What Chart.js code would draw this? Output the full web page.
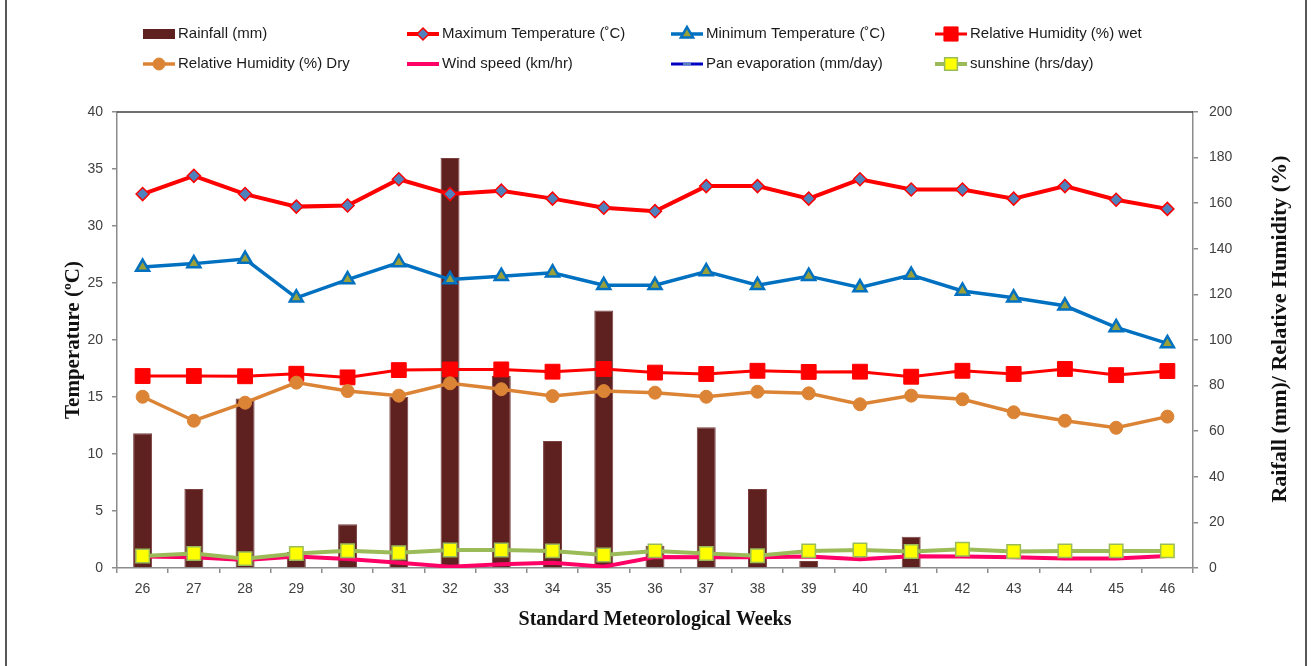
<!DOCTYPE html>
<html>
<head>
<meta charset="utf-8">
<title>Weather parameters by standard meteorological week</title>
<script src="https://cdn.jsdelivr.net/npm/chart.js"></script>
<style>
  html, body { margin: 0; padding: 0; background: #fff; }
  #wrap { position: relative; width: 1311px; height: 666px; }
</style>
</head>
<body>
<div id="wrap"><canvas id="weather-chart"></canvas></div>
<script>
// 數據
const weeks = ['26', '27', '28', '29', '30', '31', '32', '33', '34', '35', '36',
               '37', '38', '39', '40', '41', '42', '43', '44', '45', '46'];
const rainfall = [59.1, 34.6, 74.3, 7.0, 19.2, 75.1, 179.8, 84.2, 55.7, 112.9, 9.8,
                  61.7, 34.6, 3.1, 0, 13.7, 0, 0, 0, 0, 0];
const maxTemp = [32.8, 34.4, 32.8, 31.7, 31.8, 34.1, 32.8, 33.1, 32.4, 31.6, 31.3,
                 33.5, 33.5, 32.4, 34.1, 33.2, 33.2, 32.4, 33.5, 32.3, 31.5];
const minTemp = [26.4, 26.7, 27.1, 23.7, 25.3, 26.8, 25.3, 25.6, 25.9, 24.8, 24.8,
                 26.0, 24.8, 25.6, 24.6, 25.7, 24.3, 23.7, 23.0, 21.1, 19.7];
const rhWet = [84.2, 84.2, 84.1, 85.2, 83.6, 86.8, 87.1, 87.1, 86.1, 87.3, 85.7,
               85.1, 86.5, 86.0, 86.1, 83.9, 86.5, 85.1, 87.3, 84.6, 86.4];
const rhDry = [75.1, 64.6, 72.5, 81.3, 77.6, 75.6, 81.0, 78.4, 75.4, 77.6, 76.9,
               75.1, 77.3, 76.6, 71.8, 75.6, 74.0, 68.3, 64.6, 61.5, 66.4];
const windSpeed = [5.0, 4.7, 3.5, 5.0, 3.9, 2.3, 0.6, 1.6, 2.3, 0.6, 4.8,
                   4.7, 4.7, 5.0, 3.8, 5.2, 5.0, 4.7, 4.2, 4.2, 5.3];
const panEvaporation = []; // 原圖中看不到這條線
const sunshine = [5.3, 6.4, 4.1, 6.4, 7.6, 6.7, 7.9, 7.9, 7.5, 5.7, 7.5,
                  6.4, 5.4, 7.5, 7.9, 7.2, 8.2, 7.2, 7.5, 7.5, 7.5];

const tickFont = { family: '"Liberation Sans", Arial, sans-serif', size: 14 };
const serif = '"Liberation Serif", "Times New Roman", serif';

// 畫圖例用的小記號
function drawMarker(ctx, style, x, y, r, fill, stroke, lw) {
  ctx.beginPath();
  if (style === 'rectRot') {
    ctx.moveTo(x, y - r); ctx.lineTo(x + r, y); ctx.lineTo(x, y + r); ctx.lineTo(x - r, y);
    ctx.closePath();
  } else if (style === 'triangle') {
    ctx.moveTo(x, y - r);
    ctx.lineTo(x + 0.866 * r, y + 0.5 * r);
    ctx.lineTo(x - 0.866 * r, y + 0.5 * r);
    ctx.closePath();
  } else if (style === 'rect') {
    const s = r * Math.SQRT1_2;
    ctx.rect(x - s, y - s, 2 * s, 2 * s);
  } else if (style === 'line') {
    ctx.moveTo(x - r, y); ctx.lineTo(x + r, y);
    ctx.strokeStyle = fill; ctx.lineWidth = 2; ctx.stroke();
    return;
  } else {
    ctx.arc(x, y, r, 0, Math.PI * 2);
  }
  ctx.fillStyle = fill; ctx.fill();
  if (lw) { ctx.strokeStyle = stroke; ctx.lineWidth = lw; ctx.stroke(); }
}

// 兩行四欄的圖例、右邊軸標題、外框
const decorPlugin = {
  id: 'decor',
  afterDraw(chart) {
    const ctx = chart.ctx;
    const area = chart.chartArea;
    const cols = [143, 407, 671, 935];
    const rows = [34, 64];
    ctx.save();

    // 圖區上方的框線
    ctx.strokeStyle = '#404040';
    ctx.lineWidth = 1.5;
    ctx.beginPath();
    ctx.moveTo(area.left, area.top);
    ctx.lineTo(area.right, area.top);
    ctx.stroke();

    // 外框
    ctx.strokeStyle = '#222';
    ctx.lineWidth = 1.5;
    ctx.beginPath();
    ctx.moveTo(6, 0); ctx.lineTo(6, 666);
    ctx.moveTo(1306, 0); ctx.lineTo(1306, 666);
    ctx.stroke();

    chart.data.datasets.forEach((ds, i) => {
      const x = cols[i % 4];
      const y = rows[Math.floor(i / 4)];
      if (ds.type === 'bar') {
        ctx.fillStyle = ds.backgroundColor;
        ctx.fillRect(x, y - 5, 32, 10);
      } else {
        ctx.strokeStyle = ds.borderColor;
        ctx.lineWidth = ds.borderWidth;
        ctx.beginPath();
        ctx.moveTo(x, y); ctx.lineTo(x + 32, y);
        ctx.stroke();
        if (ds.legendMarker) {
          drawMarker(ctx, ds.pointStyle, x + 16, y, ds.legendMarker,
            ds.pointBackgroundColor, ds.pointBorderColor, ds.pointBorderWidth);
        }
      }
      ctx.font = '15px "Liberation Sans", Arial, sans-serif';
      ctx.fillStyle = '#1a1a1a';
      ctx.textBaseline = 'middle';
      ctx.textAlign = 'left';
      ctx.fillText(ds.label, x + 35, y);
    });

    // 右邊軸標題 (由下往上)
    ctx.translate(1280, 329);
    ctx.rotate(-Math.PI / 2);
    ctx.font = 'bold 22px ' + serif;
    ctx.fillStyle = '#111';
    ctx.textAlign = 'center';
    ctx.textBaseline = 'middle';
    ctx.fillText('Raifall (mm)/ Relative Humidity (%)', 0, 0);
    ctx.restore();
  }
};

var ctx = document.getElementById('weather-chart').getContext('2d');
var weatherChart = new Chart(ctx, {
  type: 'bar',
  data: {
    labels: weeks,
    datasets: [
      {
        label: 'Rainfall (mm)',
        type: 'bar',
        data: rainfall,
        backgroundColor: '#5f2020',
        borderColor: '#7a4040',
        borderWidth: 1,
        barPercentage: 0.37,
        categoryPercentage: 1,
        yAxisID: 'y1',
        order: 20
      },
      {
        label: 'Maximum Temperature (˚C)',
        type: 'line',
        data: maxTemp,
        borderColor: '#ff0000',
        borderWidth: 4,
        pointStyle: 'rectRot',
        pointRadius: 6.5,
        pointBackgroundColor: '#4f81bd',
        pointBorderColor: '#ff0000',
        pointBorderWidth: 1.5,
        legendMarker: 6,
        tension: 0,
        yAxisID: 'y',
        order: 7
      },
      {
        label: 'Minimum Temperature (˚C)',
        type: 'line',
        data: minTemp,
        borderColor: '#0070c0',
        borderWidth: 3.5,
        pointStyle: 'triangle',
        pointRadius: 7.5,
        pointBackgroundColor: '#9aa03a',
        pointBorderColor: '#0070c0',
        pointBorderWidth: 2.5,
        legendMarker: 7,
        tension: 0,
        yAxisID: 'y',
        order: 6
      },
      {
        label: 'Relative Humidity (%) wet',
        type: 'line',
        data: rhWet,
        borderColor: '#ff0000',
        borderWidth: 3,
        pointStyle: 'rect',
        pointRadius: 10.5,
        pointBackgroundColor: '#ff0000',
        pointBorderColor: '#ff0000',
        pointBorderWidth: 1,
        legendMarker: 10,
        tension: 0,
        yAxisID: 'y1',
        order: 5
      },
      {
        label: 'Relative Humidity (%) Dry',
        type: 'line',
        data: rhDry,
        borderColor: '#dc8435',
        borderWidth: 3.5,
        pointStyle: 'circle',
        pointRadius: 6.5,
        pointBackgroundColor: '#dc8435',
        pointBorderColor: '#dc8435',
        pointBorderWidth: 1,
        legendMarker: 6,
        tension: 0,
        yAxisID: 'y1',
        order: 4
      },
      {
        label: 'Wind speed (km/hr)',
        type: 'line',
        data: windSpeed,
        borderColor: '#ff0066',
        borderWidth: 4,
        pointRadius: 0,
        tension: 0,
        yAxisID: 'y1',
        order: 3
      },
      {
        label: 'Pan evaporation (mm/day)',
        type: 'line',
        data: panEvaporation,
        borderColor: '#0000c0',
        borderWidth: 3,
        pointStyle: 'line',
        pointRadius: 4,
        pointBackgroundColor: '#4f81bd',
        pointBorderColor: '#4f81bd',
        legendMarker: 4,
        tension: 0,
        yAxisID: 'y1',
        order: 2
      },
      {
        label: 'sunshine (hrs/day)',
        type: 'line',
        data: sunshine,
        borderColor: '#9bbb59',
        borderWidth: 4,
        pointStyle: 'rect',
        pointRadius: 9.5,
        pointBackgroundColor: '#ffff00',
        pointBorderColor: '#9bbb59',
        pointBorderWidth: 1.5,
        legendMarker: 9,
        tension: 0,
        yAxisID: 'y1',
        order: 1
      }
    ]
  },
  options: {
    responsive: true,
    maintainAspectRatio: false,
    animation: false,
    layout: { padding: { top: 112, left: 57, right: 0, bottom: 30 } },
    plugins: {
      legend: { display: false },
      tooltip: { enabled: false }
    },
    scales: {
      x: {
        offset: true,
        grid: { offset: true, drawOnChartArea: false, tickLength: 5, color: '#8c8c8c', lineWidth: 1.5 },
        border: { color: '#8c8c8c', width: 1.5 },
        ticks: { font: tickFont, color: '#404040', padding: 8 },
        title: { display: true, text: 'Standard Meteorological Weeks',
                 font: { family: serif, size: 20, weight: 'bold' }, color: '#111' },
        afterFit: s => { s.height = 68; }
      },
      y: {
        position: 'left',
        min: 0,
        max: 40,
        ticks: { stepSize: 5, font: tickFont, color: '#404040', padding: 9 },
        grid: { drawOnChartArea: false, tickLength: 5, color: '#8c8c8c', lineWidth: 1.5 },
        border: { color: '#8c8c8c', width: 1.5 },
        title: { display: true, text: 'Temperature (ºC)',
                 font: { family: serif, size: 21, weight: 'bold' }, color: '#111' },
        afterFit: s => { s.width = 60; }
      },
      y1: {
        position: 'right',
        min: 0,
        max: 200,
        ticks: { stepSize: 20, font: tickFont, color: '#404040', padding: 11 },
        grid: { drawOnChartArea: false, tickLength: 5, color: '#8c8c8c', lineWidth: 1.5 },
        border: { color: '#8c8c8c', width: 1.5 },
        afterFit: s => { s.width = 118; }
      }
    }
  },
  plugins: [decorPlugin]
});
</script>
</body>
</html>
